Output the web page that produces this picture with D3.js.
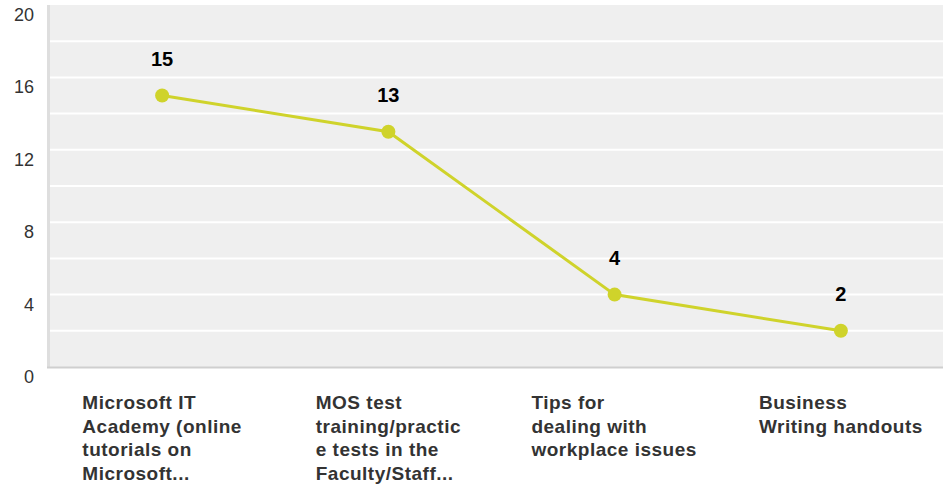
<!DOCTYPE html>
<meta charset="utf-8">
<html>
<head>
<style>
  body { margin: 0; background: #fff; }
  text { font-family: "Liberation Sans", Arial, sans-serif; }
</style>
<script src="https://d3js.org/d3.v7.min.js"></script>
</head>
<body>
<div id="chart"></div>
<script>
  // data
  var categories = [
    "Microsoft IT Academy (online tutorials on Microsoft...",
    "MOS test training/practice tests in the Faculty/Staff...",
    "Tips for dealing with workplace issues",
    "Business Writing handouts"
  ];
  // the category labels as they wrap in the picture
  var categoryLines = [
    ["Microsoft IT", "Academy (online", "tutorials on", "Microsoft..."],
    ["MOS test", "training/practic", "e tests in the", "Faculty/Staff..."],
    ["Tips for", "dealing with", "workplace issues"],
    ["Business", "Writing handouts"]
  ];
  var values = [15, 13, 4, 2];
  var yTicks = [0, 4, 8, 12, 16, 20];
  var gridValues = [2, 4, 6, 8, 10, 12, 14, 16, 18];

  var width = 943, height = 486;
  var plotLeft = 50, plotTop = 5, plotBottom = 367;

  var svg = d3.select("#chart").append("svg")
    .attr("width", width)
    .attr("height", height);

  var x = d3.scaleBand()
    .domain(categories)
    .range([49, 954]);

  var y = d3.scaleLinear()
    .domain([0, 20])
    .range([plotBottom, plotTop]);

  // plot background
  svg.append("rect")
    .attr("x", plotLeft)
    .attr("y", plotTop)
    .attr("width", width - plotLeft)
    .attr("height", plotBottom - plotTop)
    .style("fill", "#efefef");

  // gridlines
  svg.append("g")
    .selectAll("line")
    .data(gridValues)
    .enter()
    .append("line")
    .attr("x1", plotLeft)
    .attr("x2", width)
    .attr("y1", function(d) { return y(d); })
    .attr("y2", function(d) { return y(d); })
    .style("stroke", "#fff")
    .style("stroke-width", 2);

  // left and bottom borders
  svg.append("line")
    .attr("x1", 48.5).attr("x2", 48.5)
    .attr("y1", plotTop).attr("y2", plotBottom + 1)
    .style("stroke", "#dedede")
    .style("stroke-width", 3);
  svg.append("line")
    .attr("x1", 47).attr("x2", width)
    .attr("y1", plotBottom + 0.5).attr("y2", plotBottom + 0.5)
    .style("stroke", "#cfcfcf")
    .style("stroke-width", 2);

  // y tick labels
  svg.append("g")
    .selectAll("text")
    .data(yTicks)
    .enter()
    .append("text")
    .attr("x", 34)
    .attr("y", function(d) { return y(d) + 16; })
    .style("text-anchor", "end")
    .style("font-size", "18px")
    .style("fill", "#333")
    .text(function(d) { return d; });

  // line
  var line = d3.line()
    .x(function(d, i) { return x(categories[i]) + x.bandwidth() / 2; })
    .y(function(d) { return y(d); });

  svg.append("path")
    .datum(values)
    .attr("d", line)
    .style("fill", "none")
    .style("stroke", "#cfd32b")
    .style("stroke-width", 3);

  // dots
  svg.append("g")
    .selectAll("circle")
    .data(values)
    .enter()
    .append("circle")
    .attr("cx", function(d, i) { return x(categories[i]) + x.bandwidth() / 2; })
    .attr("cy", function(d) { return y(d); })
    .attr("r", 7)
    .style("fill", "#cfd32b");

  // value labels
  svg.append("g")
    .selectAll("text")
    .data(values)
    .enter()
    .append("text")
    .attr("x", function(d, i) { return x(categories[i]) + x.bandwidth() / 2; })
    .attr("y", function(d) { return y(d) - 29.5; })
    .style("text-anchor", "middle")
    .style("font-size", "20px")
    .style("font-weight", "bold")
    .style("fill", "#000")
    .text(function(d) { return d; });

  // category labels, left aligned inside a block centred on the point
  categories.forEach(function(c, i) {
    var cx = x(c) + x.bandwidth() / 2;
    var t = svg.append("text")
      .style("font-size", "19px")
      .style("font-weight", "bold")
      .style("letter-spacing", "0.5px")
      .style("fill", "#333");
    categoryLines[i].forEach(function(s, j) {
      t.append("tspan")
        .attr("x", 0)
        .attr("y", 409 + j * 23.5)
        .text(s);
    });
    var w = t.node().getBBox().width;
    t.attr("transform", "translate(" + (cx - w / 2) + ",0)");
  });
</script>
</body>
</html>
